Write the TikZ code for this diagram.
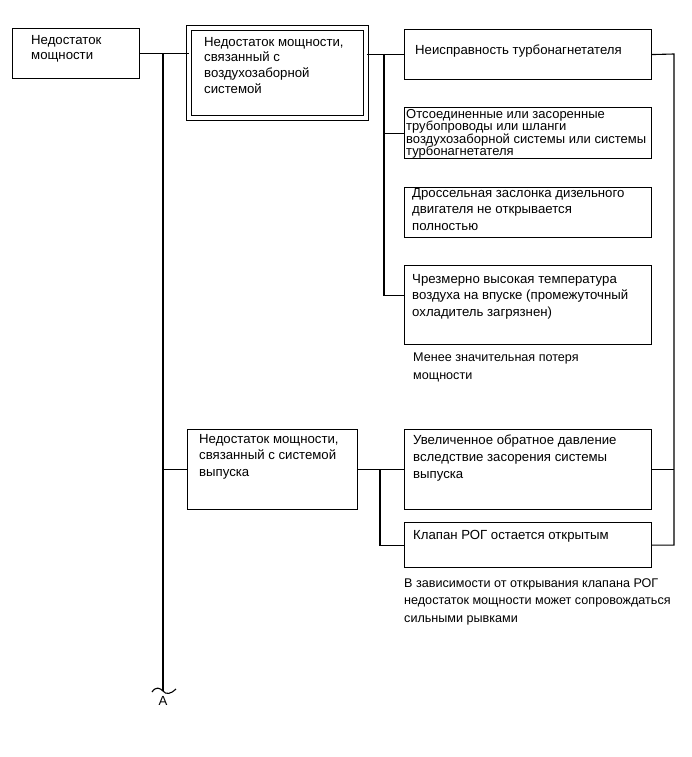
\documentclass[tikz,border=0pt]{standalone}
\usepackage{fontspec}
\setmainfont{Liberation Sans}
\usepackage{tikz}
\usetikzlibrary{positioning,calc}

\begin{document}
\begin{tikzpicture}[x=1pt, y=-1pt,
  box/.style={draw, line width=1.1pt, anchor=north west, inner sep=0pt},
  txt/.style={anchor=north west, inner sep=0pt, align=left, font=\fontsize{13.2}{15.6}\selectfont},
  widetxt/.style={txt, font=\fontsize{13.2}{16.6}\selectfont},
  notetxt/.style={txt, font=\fontsize{12.6}{17.8}\selectfont},
  smalltxt/.style={txt, font=\fontsize{13}{12.4}\selectfont},
  wire/.style={line width=1.1pt}]
\useasboundingbox (0,0) rectangle (692,757);

% Boxes
\node[box, minimum width=127, minimum height=50] (b1) at (12,28) {};
\node[box, double, double distance=4pt, minimum width=177, minimum height=90] (b2) at (188.5,27.5) {};
\node[box, minimum width=247, minimum height=50] (b3) at (404,29) {};
\node[box, minimum width=247, minimum height=51] (b4) at (404,107) {};
\node[box, minimum width=247, minimum height=50] (b5) at (404,187) {};
\node[box, minimum width=247, minimum height=79] (b6) at (404,265) {};
\node[box, minimum width=170, minimum height=80] (b7) at (187,429) {};
\node[box, minimum width=247, minimum height=80] (b8) at (404,429) {};
\node[box, minimum width=247, minimum height=45] (b9) at (404,522) {};

% Texts
\node[txt] (t1) at (31,35) {Недостаток\\мощности};
\node[txt] (t2) at (204,37) {Недостаток мощности,\\связанный с\\воздухозаборной\\системой};
\node[txt] (t3) at (415,45) {Неисправность турбонагнетателя};
\node[smalltxt] (t4) at (406,109) {Отсоединенные или засоренные\\трубопроводы или шланги\\воздухозаборной системы или системы\\турбонагнетателя};
\node[widetxt] (t5) at (412,188) {Дроссельная заслонка дизельного\\двигателя не открывается\\полностью};
\node[widetxt] (t6) at (412,274) {Чрезмерно высокая температура\\воздуха на впуске (промежуточный\\охладитель загрязнен)};
\node[notetxt] (n1) at (413,353) {Менее значительная потеря\\мощности};
\node[widetxt] (t7) at (199,434) {Недостаток мощности,\\связанный с системой\\выпуска};
\node[widetxt] (t8) at (413,435) {Увеличенное обратное давление\\вследствие засорения системы\\выпуска};
\node[txt] (t9) at (413,530) {Клапан РОГ остается открытым};
\node[notetxt] (n2) at (404,578) {В зависимости от открывания клапана РОГ\\недостаток мощности может сопровождаться\\сильными рывками};

% Junctions
\coordinate (ja) at (163,54);
\coordinate (jb) at (384,54);
\coordinate (jc) at (674,54);
\coordinate (jd) at (380,469);
\coordinate (jend) at (163,691);

% Connectors
\draw[wire] (b1.east) -- (b1.east -| b2.west);
\draw[wire] (b3.west -| b2.east) -- (b3.west);
\draw[wire] (ja) -- (jend);
\draw[wire] (jb) |- ($(b6.west)+(0,-10)$);
\draw[wire] (jb |- b4.west) -- (b4.west);
\draw[wire] ($(b5.west)+(0,-5)$ -| jb) -- ($(b5.west)+(0,-5)$);
\draw[wire] (b3.east) -- (jc) |- (b9.east);
\draw[wire] (b8.east) -- (b8.east -| jc);
\draw[wire] (ja |- b7.west) -- (b7.west);
\draw[wire] (b7.east) -- (b8.west);
\draw[wire] (jd) |- (b9.west);

% Break mark
\draw[wire] (152,692) .. controls (156,686) and (160,688) .. (jend) .. controls (166,695) and (171,694) .. (176,689);
\node[txt, anchor=north] (nA) at (163,696) {A};
\end{tikzpicture}
\end{document}
